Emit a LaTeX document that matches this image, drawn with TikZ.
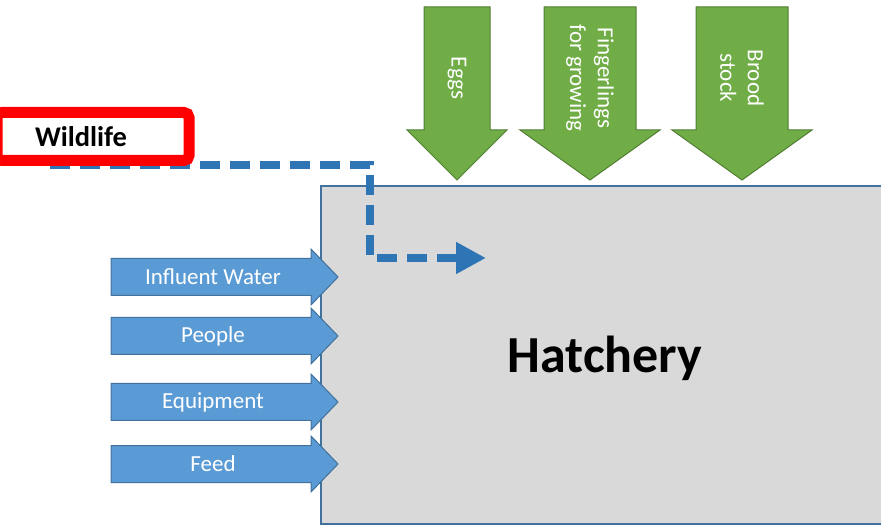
\documentclass[tikz,border=0pt]{standalone}
\usepackage{fontspec}
\setmainfont{Carlito}
\usepackage{tikz}
\usetikzlibrary{arrows.meta}
\definecolor{arrowgreen}{RGB}{112, 173, 71}
\definecolor{greenline}{RGB}{80, 126, 50}
\definecolor{arrowblue}{RGB}{91, 155, 213}
\definecolor{blueline}{RGB}{65, 113, 156}
\definecolor{dashblue}{RGB}{46, 117, 182}
\definecolor{hatchgray}{RGB}{217, 217, 217}

\begin{document}
\begin{tikzpicture}[x=1pt,y=-1pt,
    greenarrow/.style={fill=arrowgreen,draw=greenline,line width=1pt},
    bluearrow/.style={fill=arrowblue,draw=blueline,line width=1pt},
    arrowtext/.style={text=white,align=center,font=\fontsize{23}{27.6}\selectfont},
    hatchbox/.style={draw=blueline,fill=hatchgray,line width=1.5pt,outer sep=0pt},
    wildbox/.style={draw=red,fill=white,line width=11pt,rounded corners=5pt,outer sep=0pt,
        text width=116pt,inner xsep=38pt,minimum height=48pt,align=left,
        font=\fontsize{28.5}{31}\selectfont\bfseries}]
        \useasboundingbox (0,0) rectangle (881,526);

        \coordinate (w1) at (50,165);
        \coordinate (w2) at (370,165);
        \coordinate (w3) at (370,258);
        \coordinate (w4) at (486,258);

        \node[hatchbox,anchor=north west,minimum width=600pt,minimum height=338pt] (hatchery) at (321,186) {};
        \node[font=\fontsize{52}{56}\selectfont\bfseries,anchor=base] (hatchlabel) at (605,373) {Hatchery};

        % inputs from the top
        \foreach \cx/\sw/\hw/\name/\txt in {457/33/50/eggs/Eggs,
                590/46/70/fingerlings/{Fingerlings\\for growing},
                742/46/70/brood/{Brood\\stock}}{
            \draw[greenarrow] (\cx-\sw,7) -- (\cx+\sw,7) -- (\cx+\sw,130) -- (\cx+\hw,130)
                -- (\cx,180) -- (\cx-\hw,130) -- (\cx-\sw,130) -- cycle;
            \node[arrowtext,rotate=-90] (\name) at (\cx,78) {\txt};
        }

        % inputs from the left
        \foreach \cy/\name/\txt in {277/water/Influent Water,336/people/People,
                402/equipment/Equipment,464/feed/Feed}{
            \draw[bluearrow] (111,\cy-18.5) -- (311,\cy-18.5) -- (311,\cy-28) -- (338,\cy)
                -- (311,\cy+28) -- (311,\cy+18.5) -- (111,\cy+18.5) -- cycle;
            \node[arrowtext] (\name) at (213,\cy) {\txt};
        }

        \draw[dashblue,line width=8pt,dash pattern=on 20pt off 10pt,
            -{Triangle[length=30pt,width=30pt]}] (w1) -- (w2) -- (w3) -- (w4);

        \node[wildbox,anchor=west] (wildlife) at (-3,136.5) {Wildlife};
    \end{tikzpicture}
\end{document}
